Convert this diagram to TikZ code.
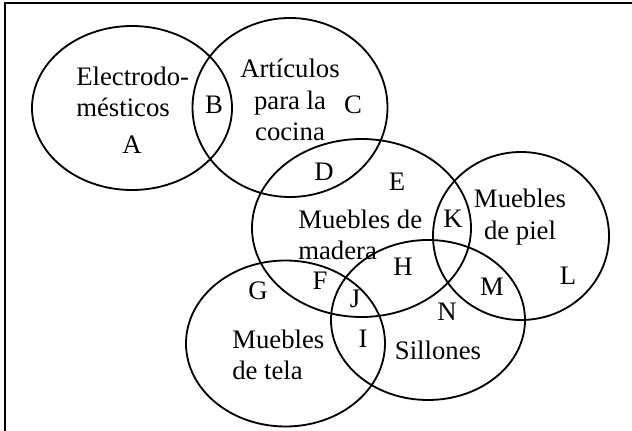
\documentclass[tikz,border=0pt]{standalone}
\usepackage{fontspec}
\setmainfont{Liberation Serif}
\usepackage{tikz}

\begin{document}
\begin{tikzpicture}[x=0.025cm, y=-0.025cm]
		\tikzstyle{set}=[draw, line width=1.3pt]
		\tikzstyle{every node}=[font=\fontsize{19}{22.2}\selectfont, inner sep=0pt]
		\tikzstyle{lefttext}=[align=left, anchor=west]
		\tikzstyle{midtext}=[align=center]

		\clip (0,0) rectangle (632,431);
		\draw[line width=1.5pt] (5,3) rectangle (660,460);

		% conjuntos
		\draw[set] (132,108) ellipse (100 and 82);
		\draw[set] (290,107.5) ellipse (97.5 and 89.5);
		\draw[set] (361.5,228) ellipse (109.5 and 89);
		\draw[set] (521,236) ellipse (88 and 84);
		\draw[set] (285.5,343.5) ellipse (99.5 and 83);
		\draw[set] (428,320) ellipse (97 and 80);

		% nombres de los conjuntos
		\node[lefttext] (electro) at (76,91.5) {Electrodo-\\m\'esticos};
		\node[midtext] (cocina) at (290,100) {Art\'iculos\\para la\\cocina};
		\node[lefttext] (madera) at (298,235) {Muebles de\\madera};
		\node[midtext] (piel) at (520,217) {Muebles\\de piel};
		\node[lefttext] (tela) at (232,355) {Muebles\\de tela};
		\node (sillones) at (438,350) {Sillones};

		% regiones
		\node (A) at (132,145) {A};
		\node (B) at (214,105) {B};
		\node (C) at (353,105) {C};
		\node (D) at (324,172) {D};
		\node (E) at (397,182) {E};
		\node (F) at (320,281) {F};
		\node (G) at (258,291) {G};
		\node (H) at (403,267) {H};
		\node (I) at (363,339) {I};
		\node (J) at (355,299) {J};
		\node (K) at (453,219) {K};
		\node (L) at (568,276) {L};
		\node (M) at (492,287) {M};
		\node (N) at (447,312) {N};

	\end{tikzpicture}
\end{document}
